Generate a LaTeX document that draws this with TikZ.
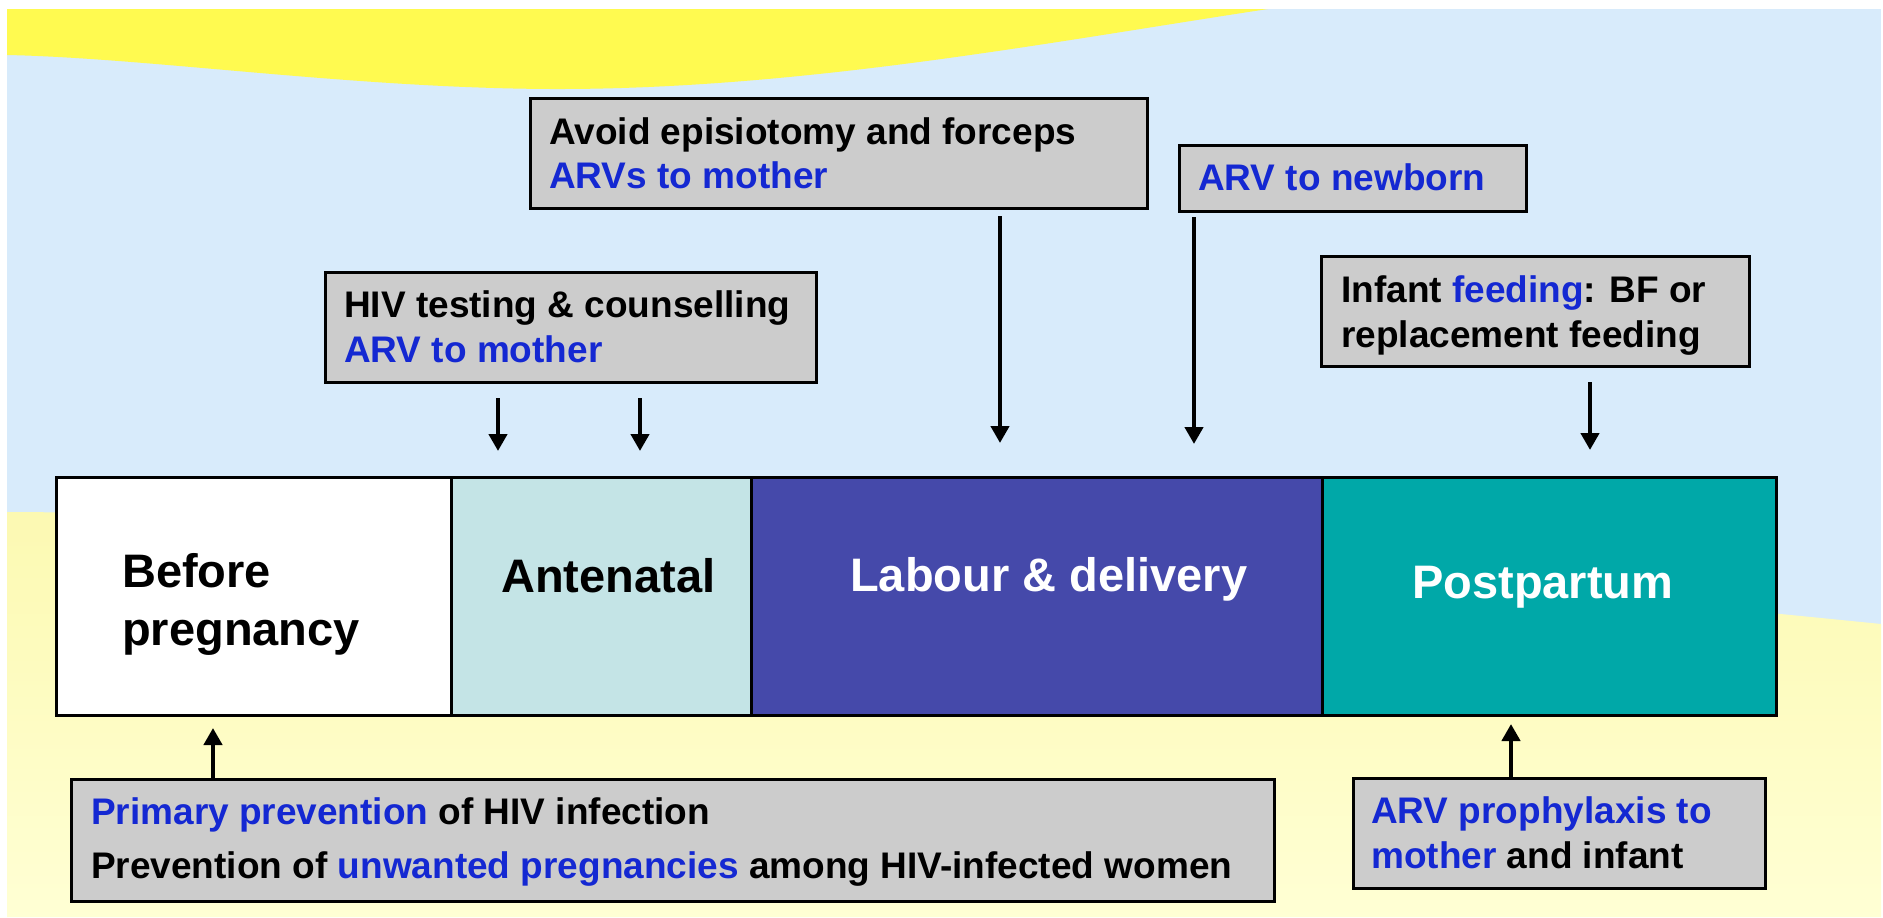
\documentclass[tikz,border=0pt]{standalone}
\usepackage{fontspec}
\setmainfont{Liberation Sans}
\usetikzlibrary{arrows.meta}

\definecolor{skyblue}{RGB}{216,235,251}
\definecolor{sunyellow}{RGB}{255,250,80}
\definecolor{paleyellowA}{RGB}{252,249,178}
\definecolor{paleyellowB}{RGB}{255,255,212}
\definecolor{boxgray}{RGB}{204,204,204}
\definecolor{arvblue}{RGB}{20,40,210}
\definecolor{antecol}{RGB}{196,228,230}
\definecolor{labourcol}{RGB}{69,73,170}
\definecolor{postcol}{RGB}{0,168,168}

\begin{document}
\begin{tikzpicture}[x=1pt,y=-1pt,
  infobox/.style={draw=black,line width=2.8pt,fill=boxgray,inner sep=0pt,anchor=north west},
  phase/.style={draw=black,line width=2.6pt,inner sep=0pt,anchor=north west,minimum height=238pt},
  smalltxt/.style={anchor=base west,inner sep=0pt,font=\fontsize{37}{44}\selectfont\bfseries},
  bigtxt/.style={anchor=base west,inner sep=0pt,font=\fontsize{47}{56}\selectfont\bfseries},
  arr/.style={line width=4.8pt,-{Triangle[width=18pt,length=17pt]}}]

% page and background
\useasboundingbox (0,0) rectangle (1883,918);
\fill[white] (0,0) rectangle (1883,918);
\fill[skyblue] (7,9) rectangle (1881,917);
\shade[top color=paleyellowA,bottom color=paleyellowB]
  (7,512) .. controls (600,515) and (1300,565) .. (1881,624)
  -- (1881,917) -- (7,917) -- cycle;
\fill[sunyellow] (7,9) -- (1268,9)
  .. controls (1050,42) and (800,90) .. (550,89)
  .. controls (350,88) and (150,58) .. (7,55) -- cycle;

% timeline of phases
\node[phase,fill=white,minimum width=395pt] (before) at (55,476) {};
\node[phase,fill=antecol,minimum width=300pt] (antenatal) at (450,476) {};
\node[phase,fill=labourcol,minimum width=571pt] (labour) at (750,476) {};
\node[phase,fill=postcol,minimum width=454pt] (postpartum) at (1321,476) {};

\node[bigtxt] (beforeA) at (122,587) {Before};
\node[bigtxt] (beforeB) at (122,645) {pregnancy};
\node[bigtxt] (antetxt) at (501,592) {Antenatal};
\node[bigtxt,text=white] (labourtxt) at (850,591) {Labour \& delivery};
\node[bigtxt,text=white] (posttxt) at (1412,598) {Postpartum};

% intervention boxes above the timeline
\node[infobox,minimum width=491pt,minimum height=110pt] (hivbox) at (324,271) {};
\node[smalltxt] (hivA) at (344,317) {HIV testing \& counselling};
\node[smalltxt,text=arvblue] (hivB) at (344,362) {ARV to mother};

\node[infobox,minimum width=617pt,minimum height=110pt] (avoidbox) at (529,97) {};
\node[smalltxt] (avoidA) at (549,144) {Avoid episiotomy and forceps};
\node[smalltxt,text=arvblue] (avoidB) at (549,188) {ARVs to mother};

\node[infobox,minimum width=347pt,minimum height=66pt] (newbornbox) at (1178,144) {};
\node[smalltxt,text=arvblue] (newbornA) at (1198,190) {ARV to newborn};

\node[infobox,minimum width=428pt,minimum height=110pt] (infantbox) at (1320,255) {};
\node[smalltxt] (infantA) at (1341,302) {Infant \textcolor{arvblue}{feeding}: BF or};
\node[smalltxt] (infantB) at (1341,347) {replacement feeding};

% intervention boxes below the timeline
\node[infobox,minimum width=1203pt,minimum height=122pt] (primarybox) at (70,778) {};
\node[smalltxt] (primA) at (91,824) {\textcolor{arvblue}{Primary prevention} of HIV infection};
\node[smalltxt] (primB) at (91,878) {Prevention of \textcolor{arvblue}{unwanted pregnancies} among HIV-infected women};

\node[infobox,minimum width=412pt,minimum height=110pt] (prophybox) at (1352,777) {};
\node[smalltxt,text=arvblue] (prophA) at (1371,823) {ARV prophylaxis to};
\node[smalltxt] (prophB) at (1371,868) {\textcolor{arvblue}{mother} and infant};

% arrow ends
\coordinate (hivtailL) at (498,398);
\coordinate (hivtipL) at (498,451);
\coordinate (hivtailR) at (640,398);
\coordinate (hivtipR) at (640,451);
\coordinate (avoidtail) at (1000,216);
\coordinate (avoidtip) at (1000,443);
\coordinate (newborntail) at (1194,217);
\coordinate (newborntip) at (1194,444);
\coordinate (infanttail) at (1590,382);
\coordinate (infanttip) at (1590,450);
\coordinate (primtip) at (213,728);
\coordinate (prophtip) at (1511,724);

% arrows
\draw[arr] (hivtailL) -- (hivtipL);
\draw[arr] (hivtailR) -- (hivtipR);
\draw[arr] (avoidtail) -- (avoidtip);
\draw[arr] (newborntail) -- (newborntip);
\draw[arr] (infanttail) -- (infanttip);
\draw[arr] (primarybox.north west -| primtip) -- (primtip);
\draw[arr] (prophybox.north west -| prophtip) -- (prophtip);
\end{tikzpicture}
\end{document}
